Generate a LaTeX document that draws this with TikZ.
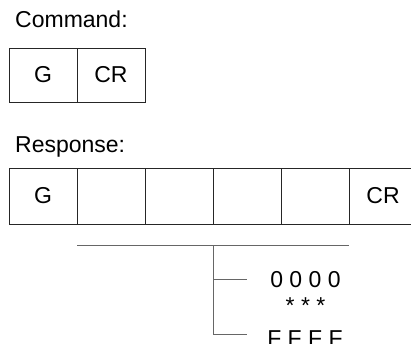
\documentclass[tikz,border=0pt]{standalone}
\usepackage{fontspec}
\setmainfont{Liberation Sans}
\usetikzlibrary{positioning}

\tikzset{
  cell/.style={draw=black!85, line width=0.9pt, minimum width=68pt,
    minimum height=56pt, inner sep=0pt, outer sep=0pt},
  lead/.style={draw=black!60, line width=0.9pt},
}

\begin{document}
\begin{tikzpicture}[x=1pt, y=-1pt, font=\fontsize{23}{27}\selectfont]
\useasboundingbox (0,0) rectangle (411,344);

% Command frame
\node[anchor=base west, inner sep=0pt] (cmdlabel) at (15,28) {Command:};
\node[cell, minimum height=54pt] (c1) at (43,75) {G};
\node[cell, minimum height=54pt, right=0pt of c1] (c2) {CR};

% Response frame
\node[anchor=base west, inner sep=0pt] (resplabel) at (15,153) {Response:};
\node[cell] (r1) at (43,196) {G};
\node[cell, right=0pt of r1] (r2) {};
\node[cell, right=0pt of r2] (r3) {};
\node[cell, right=0pt of r3] (r4) {};
\node[cell, right=0pt of r4] (r5) {};
\node[cell, right=0pt of r5] (r6) {CR};

% Data range under the four data cells
\node[anchor=base] (zeros) at (305.5,287) {0 0 0 0};
\node[anchor=base] (stars) at (305.5,313) {* * *};
\node[anchor=base] (effs) at (305,346) {F F F F};

\coordinate (bl) at (77,245);
\coordinate (br) at (349,245);
\coordinate (stem) at (213,245);
\coordinate (tick0) at (247,279);
\coordinate (tickF) at (247,334);

\draw[lead] (bl) -- (br);
\draw[lead] (stem) |- (tickF);
\draw[lead] (stem |- tick0) -- (tick0);

\end{tikzpicture}
\end{document}
